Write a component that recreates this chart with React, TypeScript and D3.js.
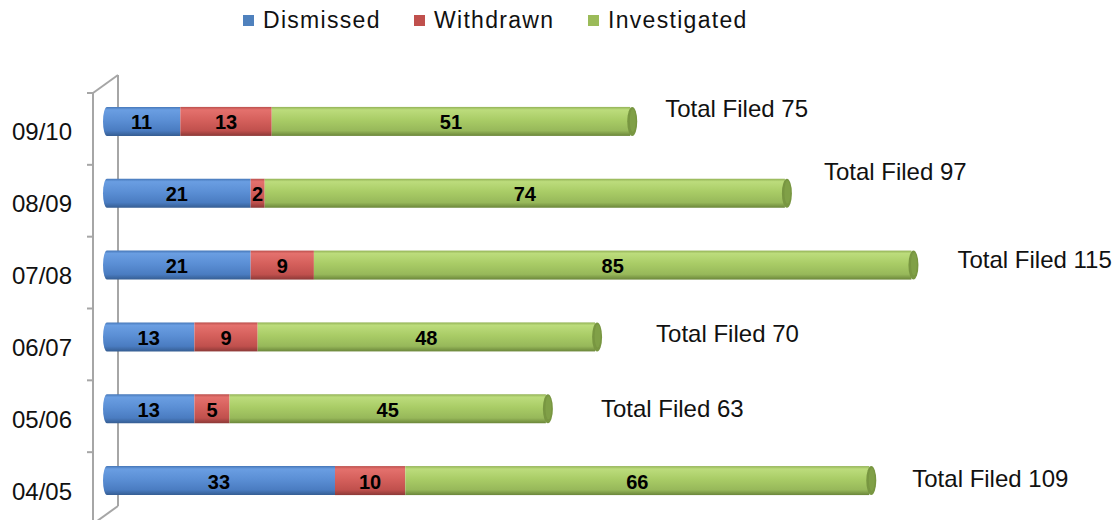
import * as d3 from "d3";

const categories = ["09/10", "08/09", "07/08", "06/07", "05/06", "04/05"];
const dismissed = [11, 21, 21, 13, 13, 33];
const withdrawn = [13, 2, 9, 9, 5, 10];
const investigated = [51, 74, 85, 48, 45, 66];
const seriesNames = ["Dismissed", "Withdrawn", "Investigated"];

// hand placed "Total Filed" boxes, nudged from the bar end like in the original
const totalNudgeX = [35, 39, 46, 61, 55, 43];
const totalNudgeY = [-13, -22, -6, -3, 0, -2];

const W = 1118;
const H = 520;
const font = "'Liberation Sans', Arial, sans-serif";
const depthX = 25;
const depthY = -18;
const barH = 29;

const shades = [
  { id: "gBlue", stops: ["#4677b8", "#6a9ee2", "#5b8fd5", "#4a7cc1", "#355d92"], cap: "#3f6ca8" },
  { id: "gRed", stops: ["#bb4f4c", "#e4716d", "#d5605c", "#c0504d", "#8c3937"], cap: "#a64441" },
  { id: "gGreen", stops: ["#93b256", "#bcdc7c", "#a9cc66", "#97b85a", "#6b863a"], cap: "#789641" },
];
const legendColors = ["#4f81bd", "#c0504d", "#9bbb59"];

const rows = categories.map((c, i) => ({
  cat: c,
  Dismissed: dismissed[i],
  Withdrawn: withdrawn[i],
  Investigated: investigated[i],
}));
const stacked = d3.stack<any>().keys(seriesNames)(rows);
const totals = rows.map((r) => r.Dismissed + r.Withdrawn + r.Investigated);

const x = d3.scaleLinear().domain([0, 120]).range([103, 103 + 120 * 7.03]);
const y = d3.scaleBand().domain(categories).range([93, 524]).padding(0);
const barMid = (c: string) => (y(c) as number) + y.bandwidth() / 2 + depthY / 2 + 1.5;

const App = () => {
  const frontX = 93;
  const top = y.range()[0];
  const bottom = y.range()[1];
  const axisColor = "#a6a6a6";

  return (
    <div style={{ position: "absolute", left: 0, top: 0 }}>
      <svg width={W} height={H} style={{ display: "block", background: "#fff" }}>
        <defs>
          {shades.map((s) => (
            <linearGradient key={s.id} id={s.id} x1="0" y1="0" x2="0" y2="1">
              <stop offset="0%" stopColor={s.stops[0]} />
              <stop offset="10%" stopColor={s.stops[1]} />
              <stop offset="45%" stopColor={s.stops[2]} />
              <stop offset="82%" stopColor={s.stops[3]} />
              <stop offset="100%" stopColor={s.stops[4]} />
            </linearGradient>
          ))}
        </defs>

        {/* legend */}
        {seriesNames.map((name, i) => {
          const lx = [243, 414, 588][i];
          return (
            <g key={name}>
              <rect x={lx} y={15} width={11} height={11} fill={legendColors[i]} />
              <text x={lx + 20} y={28} fontFamily={font} fontSize={23} letterSpacing={1.3} fill="#111">
                {name}
              </text>
            </g>
          );
        })}

        {/* 3d category axis wall */}
        <g stroke={axisColor} strokeWidth={2} fill="none">
          <line x1={frontX} y1={top} x2={frontX} y2={bottom} />
          <line x1={frontX + depthX} y1={top + depthY} x2={frontX + depthX} y2={bottom + depthY} />
          <line x1={frontX} y1={top} x2={frontX + depthX} y2={top + depthY} />
          <line x1={frontX} y1={bottom} x2={frontX + depthX} y2={bottom + depthY} />
          {d3.range(categories.length + 1).map((k) => {
            const ty = top + k * y.step();
            return <line key={k} x1={frontX - 6} y1={ty} x2={frontX} y2={ty} />;
          })}
        </g>

        {categories.map((c) => (
          <text
            key={c}
            x={72}
            y={(y(c) as number) + y.bandwidth() / 2 + 3}
            textAnchor="end"
            dominantBaseline="central"
            fontFamily={font}
            fontSize={24}
            fill="#111"
          >
            {c}
          </text>
        ))}

        {/* cylinders */}
        {categories.map((c, i) => {
          const cy = barMid(c);
          const y0 = cy - barH / 2;
          const r = 4;
          return (
            <g key={c}>
              {stacked.map((layer, si) => {
                const [a, b] = layer[i];
                const x0 = x(a);
                const x1 = x(b);
                if (si === 0) {
                  const d = `M${x0 + r},${y0} H${x1} V${y0 + barH} H${x0 + r} A${r},${barH / 2} 0 0 1 ${x0 + r},${y0} Z`;
                  return <path key={si} d={d} fill={`url(#${shades[si].id})`} />;
                }
                return <rect key={si} x={x0} y={y0} width={x1 - x0} height={barH} fill={`url(#${shades[si].id})`} />;
              })}
              <ellipse cx={x(totals[i]) + 2} cy={cy} rx={5} ry={barH / 2} fill={shades[2].cap} />
              <ellipse cx={x(totals[i]) + 2.5} cy={cy - 1} rx={3} ry={barH / 2 - 3} fill="#86a64b" opacity={0.6} />
              {stacked.map((layer, si) => {
                const [a, b] = layer[i];
                return (
                  <text
                    key={"t" + si}
                    x={(x(a) + x(b)) / 2}
                    y={cy + 1}
                    textAnchor="middle"
                    dominantBaseline="central"
                    fontFamily={font}
                    fontWeight="bold"
                    fontSize={20}
                    fill="#000"
                  >
                    {b - a}
                  </text>
                );
              })}
              <text
                x={x(totals[i]) + totalNudgeX[i]}
                y={cy + totalNudgeY[i]}
                dominantBaseline="central"
                fontFamily={font}
                fontSize={24}
                fill="#111"
              >
                {"Total Filed " + totals[i]}
              </text>
            </g>
          );
        })}
      </svg>
    </div>
  );
};

export default App;
